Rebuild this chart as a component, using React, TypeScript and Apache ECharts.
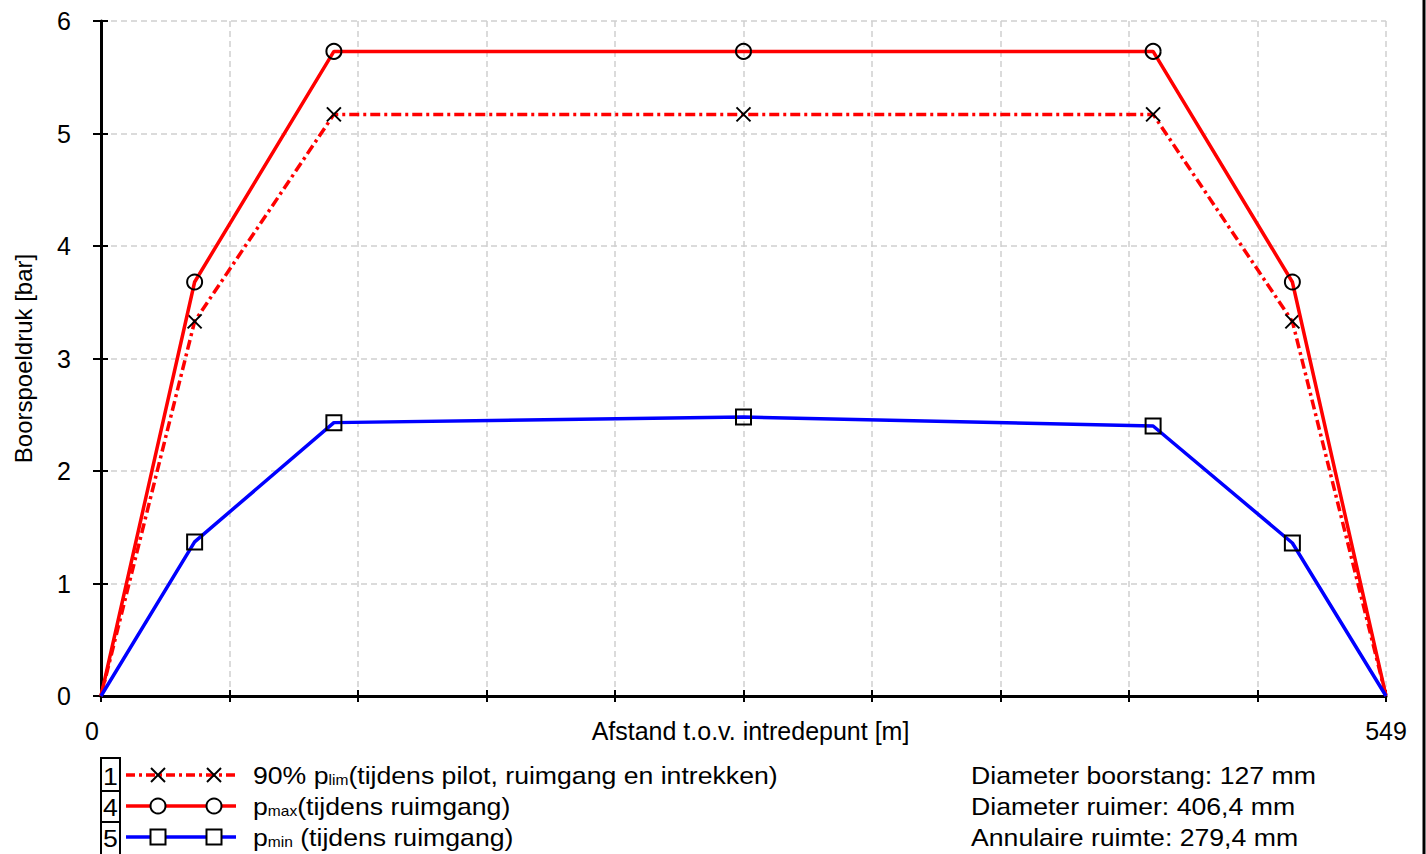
import React, { useEffect, useRef } from "react";
import * as echarts from "echarts";

const distance = [0, 40, 99.5, 274.5, 449.5, 509, 549];
const plim90 = [0, 3.33, 5.17, 5.17, 5.17, 3.33, 0];
const pmax = [0, 3.68, 5.73, 5.73, 5.73, 3.68, 0];
const pmin = [0, 1.37, 2.43, 2.48, 2.4, 1.36, 0];

const xMax = 549;
const xStep = 54.9;
const yTicks = [0, 1, 2, 3, 4, 5, 6];

const legendRows = [
  { no: "1", pre: "90% p", sub: "lim", post: "(tijdens pilot, ruimgang en intrekken)" },
  { no: "4", pre: "p", sub: "max", post: "(tijdens ruimgang)" },
  { no: "5", pre: "p", sub: "min", post: " (tijdens ruimgang)" },
];
const infoLines = [
  "Diameter boorstang: 127 mm",
  "Diameter ruimer: 406,4 mm",
  "Annulaire ruimte: 279,4 mm",
];

const FONT = "'Liberation Sans', Arial, sans-serif";
const FS = 24;
const STRETCH = 1.11;

const crossPath = "path://M0,0L10,10M10,0L0,10";

function toData(ys: number[]) {
  return distance.map((x, i) => {
    const edge = i === 0 || i === distance.length - 1;
    return edge ? { value: [x, ys[i]], symbol: "none" } : { value: [x, ys[i]] };
  });
}

export default function App() {
  const ref = useRef<HTMLDivElement>(null);
  useEffect(() => {
    if (!ref.current) return;
    const chart = echarts.init(ref.current, null, { renderer: "svg" });

    const rowY = [775, 806, 837];
    const graphics: any[] = [];
    graphics.push({
      type: "line",
      shape: { x1: 1424, y1: 0, x2: 1424, y2: 854 },
      style: { stroke: "#000", lineWidth: 3 },
    });
    const boxes = [
      [758, 791],
      [791, 822],
      [822, 858],
    ];
    legendRows.forEach((r, i) => {
      const [b0, b1] = boxes[i];
      graphics.push({
        type: "rect",
        shape: { x: 101, y: b0, width: 19, height: b1 - b0 },
        style: { fill: "#fff", stroke: "#000", lineWidth: 2 },
      });
      graphics.push({
        type: "text",
        x: 110.5,
        y: rowY[i] + 1,
        scaleX: STRETCH,
        style: {
          text: r.no,
          font: `${FS}px ${FONT}`,
          fill: "#000",
          align: "center",
          verticalAlign: "middle",
        },
      });
      const y = rowY[i];
      const color = i === 2 ? "#0000ff" : "#ff0000";
      graphics.push({
        type: "line",
        shape: { x1: 126, y1: y, x2: 236, y2: y },
        style: {
          stroke: color,
          lineWidth: 3.5,
          lineDash: i === 0 ? [9, 4, 3, 4] : null,
        },
      });
      [158, 214].forEach((mx) => {
        if (i === 0) {
          graphics.push({
            type: "line",
            shape: { x1: mx - 7, y1: y - 7, x2: mx + 7, y2: y + 7 },
            style: { stroke: "#000", lineWidth: 2 },
          });
          graphics.push({
            type: "line",
            shape: { x1: mx + 7, y1: y - 7, x2: mx - 7, y2: y + 7 },
            style: { stroke: "#000", lineWidth: 2 },
          });
        } else if (i === 1) {
          graphics.push({
            type: "circle",
            shape: { cx: mx, cy: y, r: 7.5 },
            style: { fill: "#fff", stroke: "#000", lineWidth: 2 },
          });
        } else {
          graphics.push({
            type: "rect",
            shape: { x: mx - 7.5, y: y - 7.5, width: 15, height: 15 },
            style: { fill: "#fff", stroke: "#000", lineWidth: 2 },
          });
        }
      });
      graphics.push({
        type: "text",
        x: 253,
        y: y,
        scaleX: STRETCH,
        style: {
          text: `${r.pre}{s|${r.sub}}${r.post}`,
          font: `${FS}px ${FONT}`,
          fill: "#000",
          verticalAlign: "middle",
          rich: {
            s: {
              fontSize: 14,
              fontFamily: FONT,
              fill: "#000",
              lineHeight: 14,
              verticalAlign: "bottom",
              padding: [8, 0, 0, 0],
            },
          },
        },
      });
    });
    infoLines.forEach((t, i) => {
      graphics.push({
        type: "text",
        x: 971,
        y: rowY[i],
        scaleX: STRETCH,
        style: {
          text: t,
          font: `${FS}px ${FONT}`,
          fill: "#000",
          verticalAlign: "middle",
        },
      });
    });

    const splitStyle = { show: true, lineStyle: { color: "#cfcfcf", width: 1.5, type: [6, 4] as any } };

    const baseX = {
      type: "value",
      min: 0,
      max: xMax,
      interval: xStep,
      position: "bottom",
    };
    const baseY = {
      type: "value",
      min: 0,
      max: 6,
      interval: 1,
      position: "left",
    };

    chart.setOption({
      animation: false,
      backgroundColor: "#fff",
      grid: { left: 101, right: 40, top: 21, bottom: 158, containLabel: false },
      xAxis: [
        {
          ...baseX,
          name: "Afstand t.o.v. intredepunt [m]",
          nameLocation: "middle",
          nameGap: 22,
          nameMoveOverlap: false,
          nameTextStyle: { fontSize: 25, fontFamily: FONT, color: "#000", padding: [0, 0, 0, 14] },
          axisLine: { show: true, onZero: false, lineStyle: { color: "#000", width: 3 } },
          axisTick: { show: true, inside: false, length: 6, lineStyle: { color: "#000", width: 2 } },
          axisLabel: {
            show: true,
            fontSize: 25,
            fontFamily: FONT,
            color: "#000",
            margin: 22,
            showMinLabel: true,
            showMaxLabel: true,
            formatter: (v: number) =>
              Math.abs(v) < 1e-6 ? "{z|0}" : Math.abs(v - xMax) < 0.01 ? String(xMax) : "",
            rich: {
              z: { fontSize: 25, fontFamily: FONT, color: "#000", padding: [0, 18, 0, 0] },
            },
          },
          splitLine: splitStyle,
        },
        {
          ...baseX,
          axisLine: { show: false, onZero: false },
          axisTick: { show: true, inside: true, length: 6, lineStyle: { color: "#000", width: 2 } },
          axisLabel: { show: false },
          splitLine: { show: false },
        },
      ],
      yAxis: [
        {
          ...baseY,
          name: "Boorspoeldruk [bar]",
          nameLocation: "middle",
          nameGap: 66,
          nameRotate: 90,
          nameMoveOverlap: false,
          nameTextStyle: { fontSize: FS, fontFamily: FONT, color: "#000" },
          axisLine: { show: true, onZero: false, lineStyle: { color: "#000", width: 3 } },
          axisTick: { show: true, inside: false, length: 8, lineStyle: { color: "#000", width: 2 } },
          axisLabel: {
            show: true,
            fontSize: 25,
            fontFamily: FONT,
            color: "#000",
            margin: 30,
            formatter: (v: number) => (yTicks.includes(v) ? String(v) : ""),
          },
          splitLine: splitStyle,
        },
        {
          ...baseY,
          axisLine: { show: false, onZero: false },
          axisTick: { show: true, inside: true, length: 7, lineStyle: { color: "#000", width: 2 } },
          axisLabel: { show: false },
          splitLine: { show: false },
        },
      ],
      series: [
        {
          type: "line",
          name: "90% plim",
          data: toData(plim90),
          symbol: crossPath,
          symbolSize: 14,
          showAllSymbol: true,
          lineStyle: { color: "#ff0000", width: 3.5, type: [10, 4, 3, 4] as any },
          itemStyle: { color: "none", borderColor: "#000", borderWidth: 2 },
          z: 3,
        },
        {
          type: "line",
          name: "pmax",
          data: toData(pmax),
          symbol: "circle",
          symbolSize: 15,
          showAllSymbol: true,
          lineStyle: { color: "#ff0000", width: 3.5 },
          itemStyle: { color: "none", borderColor: "#000", borderWidth: 2 },
          z: 4,
        },
        {
          type: "line",
          name: "pmin",
          data: toData(pmin),
          symbol: "rect",
          symbolSize: 15,
          showAllSymbol: true,
          lineStyle: { color: "#0000ff", width: 3.5 },
          itemStyle: { color: "none", borderColor: "#000", borderWidth: 2 },
          z: 5,
        },
      ],
      graphic: graphics,
    });
    return () => chart.dispose();
  }, []);

  return (
    <div
      ref={ref}
      style={{ position: "fixed", left: 0, top: 0, width: 1426, height: 854, background: "#fff" }}
    />
  );
}
